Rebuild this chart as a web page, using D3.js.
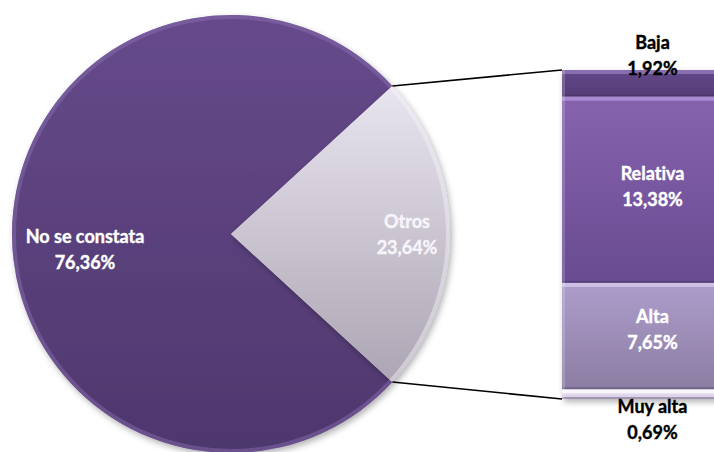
<!DOCTYPE html>
<html>
<head>
<meta charset="utf-8">
<script src="https://cdn.jsdelivr.net/npm/d3@7"></script>
<style>
  body { margin: 0; background: #fff; }
  svg { display: block; }
  text { font-family: Lato, "Open Sans", sans-serif; font-weight: bold; font-size: 18px;
         font-variant-ligatures: none; font-feature-settings: "liga" 0, "clig" 0; }
</style>
</head>
<body>
<script>
// pie data
const pieLabels = ["No se constata", "Otros"];
const pieValues = [76.36, 23.64];
const pieText = ["76,36%", "23,64%"];

// bar (breakdown of "Otros"), top to bottom
const barLabels = ["Baja", "Relativa", "Alta", "Muy alta"];
const barValues = [1.92, 13.38, 7.65, 0.69];
const barText = ["1,92%", "13,38%", "7,65%", "0,69%"];

const width = 714, height = 452;
const cx = 231, cy = 234, r = 219;

let svg = d3.select('body')
  .append('svg')
  .attr('width', width)
  .attr('height', height);

let defs = svg.append('defs');

// vertical gradients
function grad(id, top, bottom) {
  let g = defs.append('linearGradient').attr('id', id)
    .attr('x1', 0).attr('y1', 0).attr('x2', 0).attr('y2', 1);
  g.append('stop').attr('offset', '0%').attr('stop-color', top);
  g.append('stop').attr('offset', '100%').attr('stop-color', bottom);
}
grad('gMain', '#664a8b', '#4e376d');
grad('gOtros', '#e9e5f0', '#aca5b3');
grad('gBaja', '#624889', '#553d78');
grad('gRel', '#8763ae', '#684b91');
grad('gAlta', '#ad9dcb', '#8c7da3');
grad('gMuy', '#ece4f7', '#d6cce4');

let shadow = defs.append('filter').attr('id', 'shadow')
  .attr('x', '-10%').attr('y', '-10%').attr('width', '130%').attr('height', '130%');
shadow.append('feDropShadow').attr('dx', 2).attr('dy', 3).attr('stdDeviation', 3)
  .attr('flood-color', '#000').attr('flood-opacity', 0.3);

// ---- pie ----
let total = d3.sum(pieValues);
let otrosAngle = pieValues[1] / total * 2 * Math.PI;
let start = Math.PI / 2 + otrosAngle / 2;

let pie = d3.pie().sort(null).startAngle(start).endAngle(start + 2 * Math.PI);
let arcs = pie(pieValues);
let arc = d3.arc().innerRadius(0).outerRadius(r);
let rim = d3.arc().innerRadius(r - 4).outerRadius(r);

let pieGroup = svg.append('g').attr('transform', 'translate(' + cx + ',' + cy + ')');
let fills = ['url(#gMain)', 'url(#gOtros)'];
let rims = ['#8c70b3', '#f6f4fa'];

pieGroup.selectAll('path.slice')
  .data(arcs)
  .enter()
  .append('path')
  .attr('class', 'slice')
  .attr('d', arc)
  .attr('fill', (d, i) => fills[i])
  .attr('filter', 'url(#shadow)');

// soft bevel on the rim
pieGroup.selectAll('path.rim')
  .data(arcs)
  .enter()
  .append('path')
  .attr('class', 'rim')
  .attr('d', rim)
  .attr('fill', (d, i) => rims[i])
  .attr('opacity', 0.45);

// pie labels
let labelRadius = [146, 176];
let labelShift = [13, -2];
arcs.forEach(function (d, i) {
  let a = (d.startAngle + d.endAngle) / 2;
  let x = Math.sin(a) * labelRadius[i];
  let y = -Math.cos(a) * labelRadius[i] + labelShift[i];
  let c = i === 0 ? '#ffffff' : '#f7f5fa';
  let t = pieGroup.append('text')
    .attr('text-anchor', 'middle')
    .attr('fill', c)
    .attr('stroke', c).attr('stroke-width', 0.4);
  t.append('tspan').attr('x', x).attr('y', y - 4).text(pieLabels[i]);
  t.append('tspan').attr('x', x).attr('y', y + 22).text(pieText[i]);
});

// ---- bar ----
const barX = 562, barW = 183, barTop = 70, barBottom = 399;
let barTotal = d3.sum(barValues);
let yBar = d3.scaleLinear().domain([0, barTotal]).range([barTop, barBottom]);

let cum = 0;
let barData = barValues.map(function (v, i) {
  let d = { label: barLabels[i], text: barText[i], y0: cum, y1: cum + v };
  cum += v;
  return d;
});
let barFills = ['url(#gBaja)', 'url(#gRel)', 'url(#gAlta)', 'url(#gMuy)'];
let barHi = ['#9b80c2', '#b79be0', '#dcd0f0', '#ffffff'];

let barGroup = svg.append('g');
barGroup.append('rect')
  .attr('x', barX).attr('y', barTop)
  .attr('width', barW).attr('height', barBottom - barTop)
  .attr('fill', '#fff')
  .attr('filter', 'url(#shadow)');

barGroup.selectAll('rect.seg')
  .data(barData)
  .enter()
  .append('rect')
  .attr('class', 'seg')
  .attr('x', barX)
  .attr('y', d => yBar(d.y0))
  .attr('width', barW)
  .attr('height', d => yBar(d.y1) - yBar(d.y0))
  .attr('fill', (d, i) => barFills[i]);

// bevel highlight at the top of each segment, dark line at the bottom
barGroup.selectAll('rect.hi')
  .data(barData)
  .enter()
  .append('rect')
  .attr('class', 'hi')
  .attr('x', barX)
  .attr('y', d => yBar(d.y0))
  .attr('width', barW)
  .attr('height', d => Math.min(4, yBar(d.y1) - yBar(d.y0)))
  .attr('fill', (d, i) => barHi[i])
  .attr('opacity', 0.7);

barGroup.selectAll('rect.lo')
  .data(barData)
  .enter()
  .append('rect')
  .attr('class', 'lo')
  .attr('x', barX)
  .attr('y', d => yBar(d.y1) - 2)
  .attr('width', barW)
  .attr('height', 2)
  .attr('fill', '#3a2a52')
  .attr('opacity', 0.35);

barGroup.append('rect')
  .attr('x', barX).attr('y', barTop)
  .attr('width', 3).attr('height', barBottom - barTop)
  .attr('fill', '#ffffff').attr('opacity', 0.18);

// bar labels: small segments labelled outside, others inside
let labelY = [40, yBar(1.92 + 13.38 / 2) - 19, yBar(1.92 + 13.38 + 7.65 / 2) - 22, 404];
let barLabelColor = ['#000', '#fff', '#fff', '#000'];
barData.forEach(function (d, i) {
  let t = barGroup.append('text')
    .attr('text-anchor', 'middle')
    .attr('fill', barLabelColor[i])
    .attr('stroke', barLabelColor[i]).attr('stroke-width', 0.4);
  t.append('tspan').attr('x', barX + barW / 2 - 1).attr('y', labelY[i] + 9).text(d.label);
  t.append('tspan').attr('x', barX + barW / 2 - 1).attr('y', labelY[i] + 35).text(d.text);
});

// connector lines
let otros = arcs[1];
let p1 = [cx + Math.sin(otros.startAngle) * r, cy - Math.cos(otros.startAngle) * r];
let p2 = [cx + Math.sin(otros.endAngle) * r, cy - Math.cos(otros.endAngle) * r];
svg.append('line')
  .attr('x1', p1[0]).attr('y1', p1[1])
  .attr('x2', barX).attr('y2', barTop)
  .attr('stroke', '#000').attr('stroke-width', 1.5);
svg.append('line')
  .attr('x1', p2[0]).attr('y1', p2[1])
  .attr('x2', barX).attr('y2', barBottom)
  .attr('stroke', '#000').attr('stroke-width', 1.5);
</script>
</body>
</html>
